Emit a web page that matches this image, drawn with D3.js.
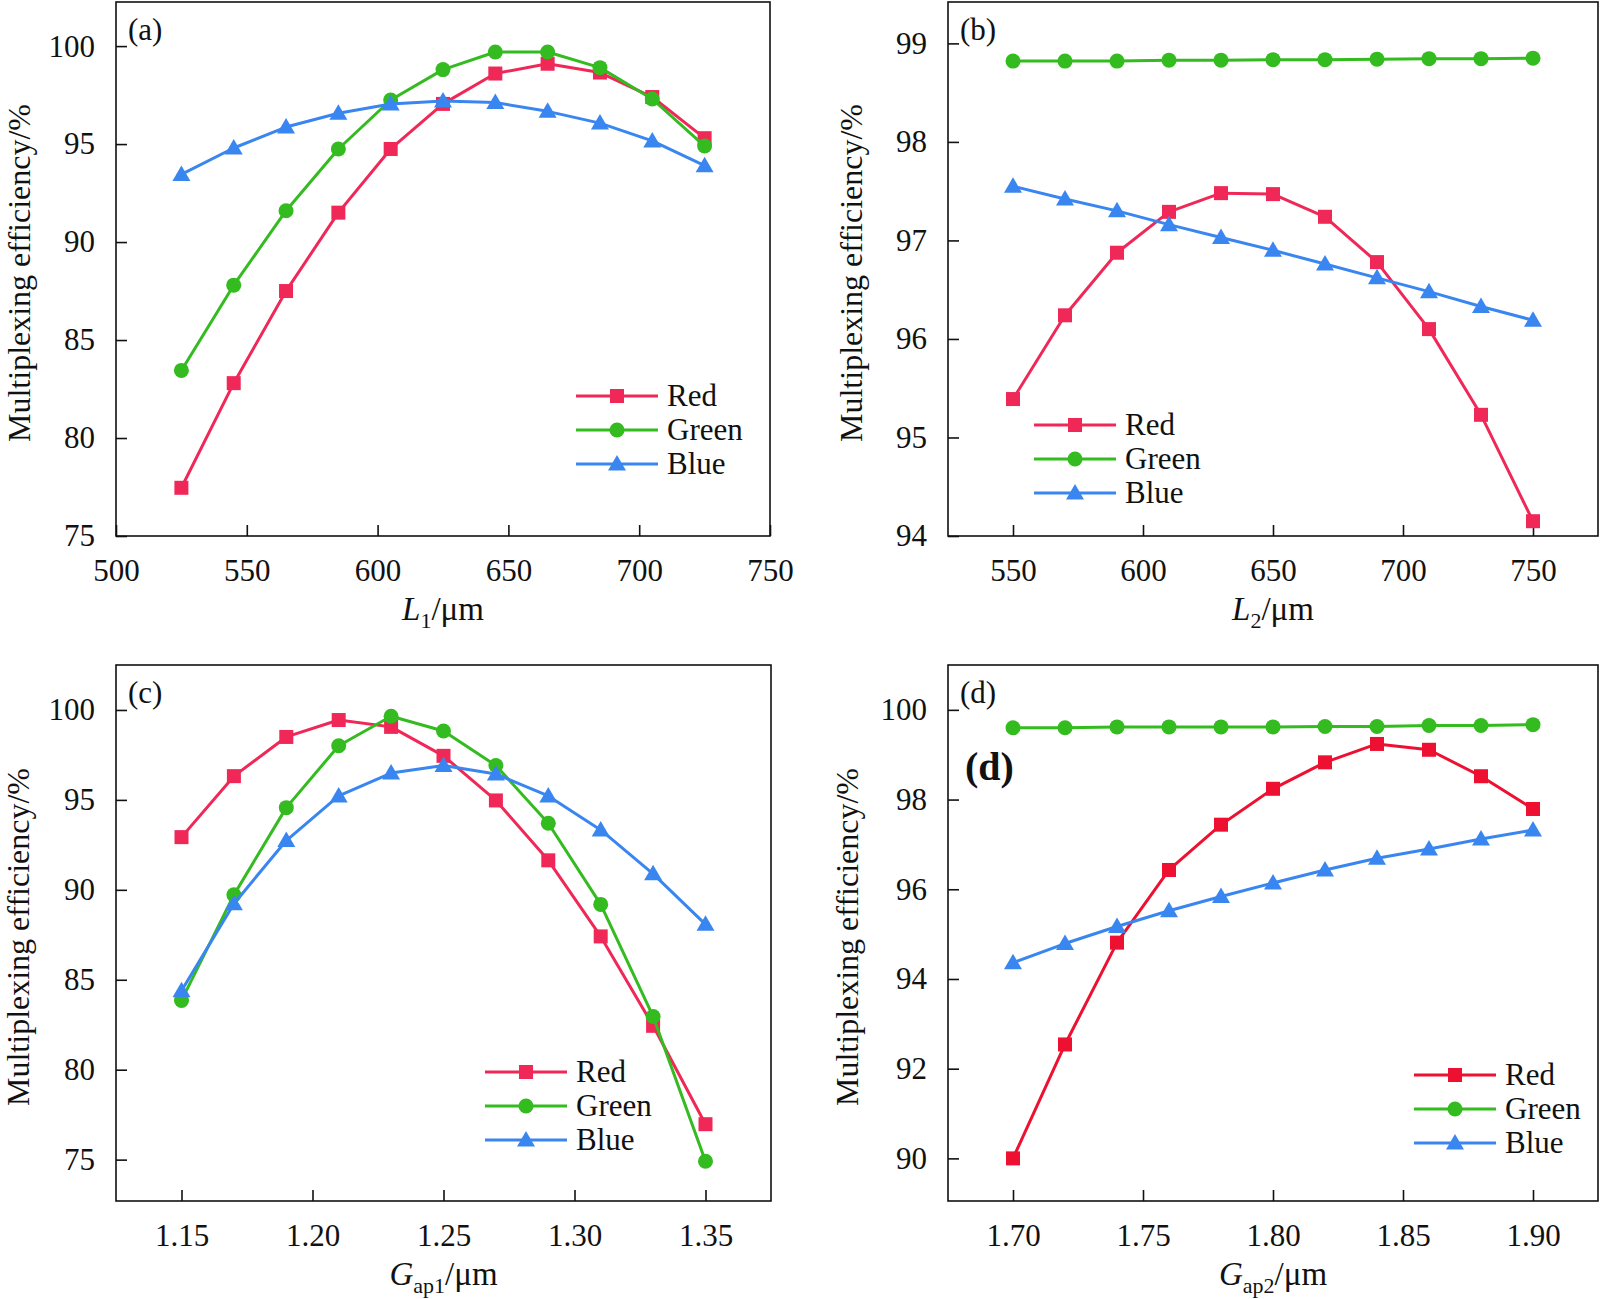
<!DOCTYPE html>
<html lang="en">
<head>
<meta charset="UTF-8">
<title>Multiplexing efficiency</title>
<script src="https://d3js.org/d3.v7.min.js"></script>
<style>
    *{padding:0; margin:0; box-sizing:border-box;}
    body{background:#fff;}
    text{font-family:"Liberation Serif","Times New Roman",serif; fill:#111;}
    .frame{fill:none; stroke:#111; stroke-width:1.6;}
    .axis path{display:none;}
    .axis line{stroke:#111; stroke-width:1.6;}
    .axis text{font-size:31px;}
    .series{fill:none; stroke-width:3; stroke-linejoin:round;}
</style>
</head>
<body>
<script>
// ---- data ----
// (a) L1 sweep
const xL1 = [525, 545, 565, 585, 605, 625, 645, 665, 685, 705, 725];
const redL1   = [77.46, 82.8, 87.5, 91.5, 94.75, 97.05, 98.6, 99.1, 98.65, 97.4, 95.3];
const greenL1 = [83.45, 87.8, 91.6, 94.75, 97.25, 98.8, 99.7, 99.7, 98.9, 97.3, 94.9];
const blueL1  = [93.45, 94.8, 95.87, 96.57, 97.04, 97.2, 97.12, 96.67, 96.07, 95.16, 93.9];
const xTicksL1 = [500, 550, 600, 650, 700, 750];
const yTicksL1 = [75, 80, 85, 90, 95, 100];

// (b) L2 sweep
const xL2 = [550, 570, 590, 610, 630, 650, 670, 690, 710, 730, 750];
const redL2   = [95.39, 96.24, 96.875, 97.29, 97.48, 97.47, 97.24, 96.78, 96.1, 95.23, 94.15];
const greenL2 = [98.82, 98.82, 98.82, 98.83, 98.83, 98.835, 98.835, 98.84, 98.845, 98.845, 98.85];
const blueL2  = [97.55, 97.42, 97.3, 97.16, 97.03, 96.9, 96.76, 96.62, 96.48, 96.33, 96.19];
const xTicksL2 = [550, 600, 650, 700, 750];
const yTicksL2 = [94, 95, 96, 97, 98, 99];

// (c) Gap1 sweep
const xG1 = [1.15, 1.17, 1.19, 1.21, 1.23, 1.25, 1.27, 1.29, 1.31, 1.33, 1.35];
const redG1   = [92.93, 96.32, 98.5, 99.44, 99.06, 97.45, 94.97, 91.64, 87.41, 82.44, 76.97];
const greenG1 = [83.85, 89.72, 94.57, 98.01, 99.65, 98.83, 96.91, 93.7, 89.19, 82.96, 74.91];
const blueG1  = [84.39, 89.23, 92.74, 95.22, 96.49, 96.91, 96.44, 95.22, 93.33, 90.89, 88.08];
const xTicksG1 = [1.15, 1.20, 1.25, 1.30, 1.35];
const yTicksG1 = [75, 80, 85, 90, 95, 100];

// (d) Gap2 sweep
const xG2 = [1.70, 1.72, 1.74, 1.76, 1.78, 1.80, 1.82, 1.84, 1.86, 1.88, 1.90];
const redG2   = [90.0, 92.54, 94.81, 96.43, 97.44, 98.24, 98.83, 99.24, 99.11, 98.52, 97.79];
const greenG2 = [99.6, 99.6, 99.62, 99.62, 99.62, 99.62, 99.63, 99.63, 99.65, 99.65, 99.67];
const blueG2  = [94.36, 94.79, 95.17, 95.52, 95.84, 96.14, 96.43, 96.69, 96.9, 97.12, 97.32];
const xTicksG2 = [1.70, 1.75, 1.80, 1.85, 1.90];
const yTicksG2 = [90, 92, 94, 96, 98, 100];

const seriesNames = ["Red", "Green", "Blue"];
const panelLabels = ["(a)", "(b)", "(c)", "(d)"];
const yTitle = "Multiplexing efficiency/%";

// ---- layout ----
const svg = d3.select("body").append("svg")
    .attr("width", 1600).attr("height", 1299);

const panels = [
    {label: panelLabels[0], x: xL1, ys: [redL1, greenL1, blueL1], xTicks: xTicksL1, yTicks: yTicksL1,
     xDom: [500, 750], yDom: [75, 102.25], box: [116, 770, 2, 536], fmt: d3.format("d"),
     legend: [576, 396], red: "#ef2858", xt: ["L", "1"], ytx: 30},
    {label: panelLabels[1], x: xL2, ys: [redL2, greenL2, blueL2], xTicks: xTicksL2, yTicks: yTicksL2,
     xDom: [525, 775], yDom: [94, 99.42], box: [948, 1598, 2, 536], fmt: d3.format("d"),
     legend: [1034, 425], red: "#ef2858", xt: ["L", "2"], ytx: 862},
    {label: panelLabels[2], x: xG1, ys: [redG1, greenG1, blueG1], xTicks: xTicksG1, yTicks: yTicksG1,
     xDom: [1.125, 1.375], yDom: [72.7, 102.5], box: [116, 771, 665, 1201], fmt: d3.format(".2f"),
     legend: [485, 1072], red: "#ef2858", xt: ["G", "ap1"], ytx: 29},
    {label: panelLabels[3], x: xG2, ys: [redG2, greenG2, blueG2], xTicks: xTicksG2, yTicks: yTicksG2,
     xDom: [1.675, 1.925], yDom: [89.05, 101.0], box: [948, 1598, 665, 1201], fmt: d3.format(".2f"),
     legend: [1414, 1075], red: "#ee1030", xt: ["G", "ap2"], ytx: 858}
];

const green = "#33bb1f", blue = "#3a86f0";

function marker(g, kind, x, y, color) {
    if (kind === 0) {
        g.append("rect").attr("x", x - 7).attr("y", y - 7)
            .attr("width", 14).attr("height", 14).attr("fill", color);
    } else if (kind === 1) {
        g.append("circle").attr("cx", x).attr("cy", y).attr("r", 7.5).attr("fill", color);
    } else {
        g.append("path").attr("d", "M" + x + "," + (y - 9) + " L" + (x + 9) + "," + (y + 6.5) +
            " L" + (x - 9) + "," + (y + 6.5) + " Z").attr("fill", color);
    }
}

panels.forEach(function(p) {
    const [x0, x1, y0, y1] = p.box;
    const xs = d3.scaleLinear().domain(p.xDom).range([x0, x1]);
    const ys = d3.scaleLinear().domain(p.yDom).range([y1, y0]);
    const colors = [p.red, green, blue];
    const g = svg.append("g");

    //axes with inward ticks
    g.append("g").attr("class", "axis").attr("transform", "translate(0," + y1 + ")")
        .call(d3.axisBottom(xs).tickValues(p.xTicks).tickFormat(p.fmt)
            .tickSizeInner(-11).tickSizeOuter(0).tickPadding(23));
    g.append("g").attr("class", "axis").attr("transform", "translate(" + x0 + ",0)")
        .call(d3.axisLeft(ys).tickValues(p.yTicks).tickFormat(d3.format("d"))
            .tickSizeInner(-11).tickSizeOuter(0).tickPadding(21));

    g.append("rect").attr("class", "frame")
        .attr("x", x0).attr("y", y0).attr("width", x1 - x0).attr("height", y1 - y0);

    //lines + markers, red first so blue ends up on top
    p.ys.forEach(function(vals, k) {
        const pts = p.x.map(function(d, i){ return [xs(d), ys(vals[i])]; });
        g.append("path").attr("class", "series").attr("stroke", colors[k])
            .attr("d", d3.line()(pts));
        pts.forEach(function(pt){ marker(g, k, pt[0], pt[1], colors[k]); });
    });

    //legend
    const [lx, ly] = p.legend;
    seriesNames.forEach(function(name, k) {
        const yy = ly + k * 34;
        g.append("line").attr("x1", lx).attr("x2", lx + 82).attr("y1", yy).attr("y2", yy)
            .attr("stroke", colors[k]).attr("stroke-width", 3);
        marker(g, k, lx + 41, yy, colors[k]);
        g.append("text").attr("x", lx + 91).attr("y", yy + 10)
            .attr("font-size", 31).text(name);
    });

    //panel letter
    g.append("text").attr("x", x0 + 12).attr("y", y0 + 38)
        .attr("font-size", 31).text(p.label);

    //axis titles
    g.append("text").attr("transform", "translate(" + p.ytx + "," + ((y0 + y1) / 2 + 4) + ") rotate(-90)")
        .attr("text-anchor", "middle").attr("font-size", 32).text(yTitle);

    const xt = g.append("text").attr("x", (x0 + x1) / 2).attr("y", y1 + 84)
        .attr("text-anchor", "middle").attr("font-size", 33);
    xt.append("tspan").attr("font-style", "italic").text(p.xt[0]);
    xt.append("tspan").attr("dy", 8).attr("font-size", 22).text(p.xt[1]);
    xt.append("tspan").attr("dy", -8).text("/\u03bcm");
});

// stray bold label that sits inside panel (d)
svg.append("text").attr("x", 965).attr("y", 780)
    .attr("font-size", 40).attr("font-weight", "bold").attr("fill", "#222").text("(d)");
</script>
</body>
</html>
